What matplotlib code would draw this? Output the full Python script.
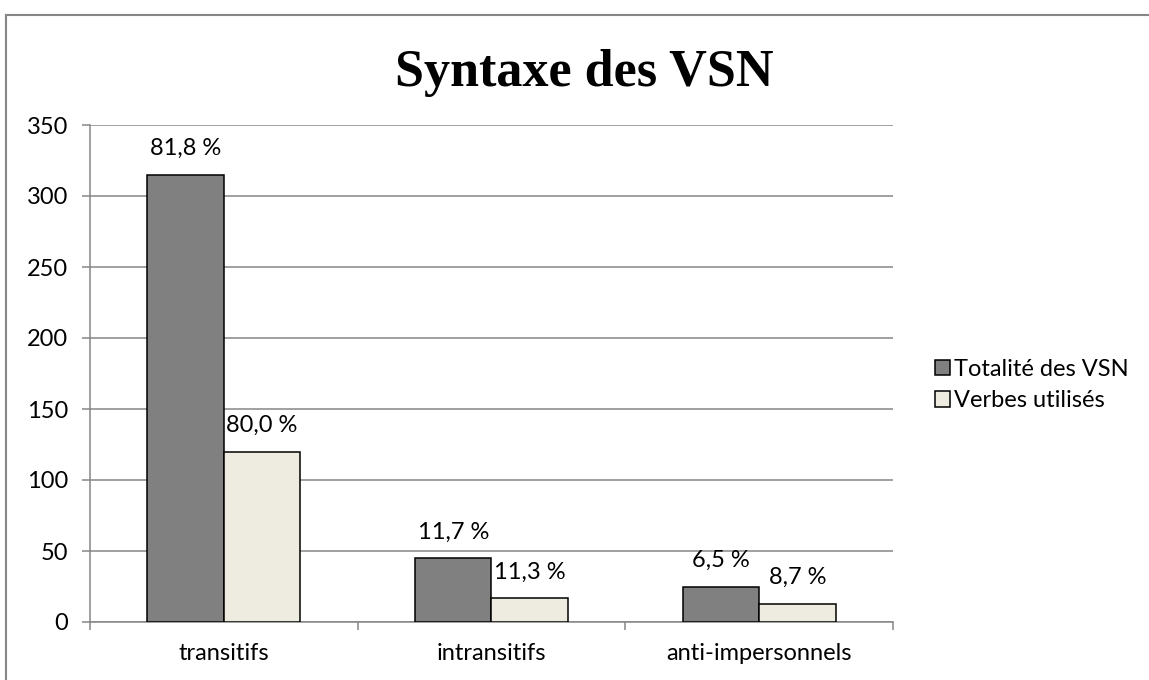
import numpy as np
import matplotlib.pyplot as plt
from matplotlib.lines import Line2D

categories = ["transitifs", "intransitifs", "anti-impersonnels"]
totalite = [315, 45, 25]
verbes = [120, 17, 13]
labels_totalite = ["81,8 %", "11,7 %", "6,5 %"]
labels_verbes = ["80,0 %", "11,3 %", "8,7 %"]

plt.rcParams['font.family'] = ['Lato', 'DejaVu Sans']
fs = 17

fig = plt.figure(figsize=(11.49, 6.80), dpi=100)
ax = fig.add_axes([90 / 1149, 58 / 680, 803 / 1149, 497 / 680])

x = np.arange(len(categories))
w = 1 / 3.5
b1 = ax.bar(x - w / 2, totalite, w, color="#808080", edgecolor="black",
            linewidth=1.1, label="Totalité des VSN", zorder=3)
b2 = ax.bar(x + w / 2, verbes, w, color="#EEECE1", edgecolor="black",
            linewidth=1.1, label="Verbes utilisés", zorder=3)

for bars, labs in ((b1, labels_totalite), (b2, labels_verbes)):
    for r, lab in zip(bars, labs):
        ax.annotate(lab, (r.get_x() + r.get_width() / 2, r.get_height()),
                    xytext=(0, 14), textcoords="offset points",
                    ha="center", va="baseline", fontsize=fs, zorder=4)

ax.set_xlim(-0.5, 2.5)
ax.set_ylim(0, 350)
ax.set_yticks(range(0, 351, 50))
ax.yaxis.grid(True, color="#868686", linewidth=1.1, zorder=0)
ax.set_xticks(x)
ax.set_xticklabels(categories)
ax.set_xticks([-0.5, 0.5, 1.5, 2.5], minor=True)
ax.tick_params(axis="x", which="major", length=0, pad=15, labelsize=fs)
ax.tick_params(axis="x", which="minor", length=6, width=1.1, color="#868686")
ax.tick_params(axis="y", length=6, width=1.1, color="#868686", pad=9.5,
               labelsize=fs)
for s in ("top", "right"):
    ax.spines[s].set_visible(False)
for s in ("left", "bottom"):
    ax.spines[s].set_color("#868686")
    ax.spines[s].set_linewidth(1.1)

ax.legend(handles=[b1, b2], loc="center left",
          bbox_to_anchor=(935 / 1149, 1 - 385 / 680),
          bbox_transform=fig.transFigure, frameon=False, fontsize=fs,
          borderpad=0, borderaxespad=0,
          handlelength=0.65, handleheight=0.65, handletextpad=0.15,
          labelspacing=0.45)

fig.text(584 / 1149, 1 - 73 / 680, "Syntaxe des VSN", ha="center",
         va="center", fontsize=37.5, fontweight="bold", family="Liberation Serif")

# cadre du graphique
fig.add_artist(Line2D([6 / 1149, 1148 / 1149], [1 - 15 / 680, 1 - 15 / 680],
                      color="#868686", linewidth=1.5))
fig.add_artist(Line2D([6 / 1149, 6 / 1149], [0, 1 - 15 / 680],
                      color="#868686", linewidth=1.5))

fig.savefig("out.png", dpi=100)
